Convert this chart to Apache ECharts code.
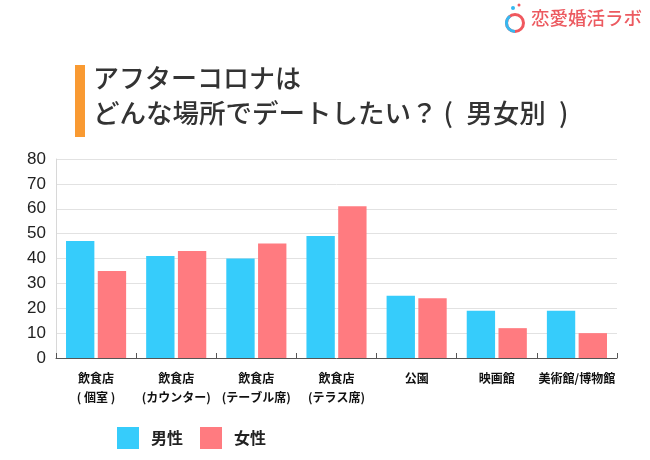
<!DOCTYPE html>
<html><head><meta charset="utf-8">
<script src="https://cdn.jsdelivr.net/npm/echarts@6/dist/echarts.min.js"></script>
<style>html,body{margin:0;padding:0;background:#fff}#c{width:650px;height:460px}</style>
</head><body><div id="c"></div>
<script>
const categories = ['飲食店\n( 個室 )', '飲食店\n(カウンター)', '飲食店\n(テーブル席)', '飲食店\n(テラス席)', '公園', '映画館', '美術館/博物館'];
const male = [47, 41, 40, 49, 25, 19, 19];
const female = [35, 43, 46, 61, 24, 12, 10];
const seriesNames = ['男性', '女性'];
const yTicks = { min: 0, max: 80, interval: 10 };

const chart = echarts.init(document.getElementById('c'), null, { renderer: 'canvas' });
const cjk = '"Noto Sans CJK JP", "Noto Sans", sans-serif';
chart.setOption({
  backgroundColor: '#fff',
  animation: false,
  grid: { left: 56, right: 33, top: 159, bottom: 102, containLabel: false },
  legend: {
    data: seriesNames,
    left: 117, top: 427, padding: 0,
    itemWidth: 22, itemHeight: 22, itemGap: 17,
    icon: 'rect',
    textStyle: { fontFamily: cjk, fontSize: 16, fontWeight: 'bold', color: '#222', padding: [0, 0, 0, 7] }
  },
  xAxis: {
    type: 'category', data: categories,
    axisLine: { lineStyle: { color: '#555', width: 1 } },
    axisTick: { show: true, inside: true, length: 5, lineStyle: { color: '#555' } },
    axisLabel: { fontFamily: cjk, fontSize: 12, fontWeight: 'bold', color: '#111', lineHeight: 19, margin: 11, interval: 0 }
  },
  yAxis: {
    type: 'value', min: yTicks.min, max: yTicks.max, interval: yTicks.interval,
    axisLine: { show: true, lineStyle: { color: '#d8d8d8' } },
    axisTick: { show: false },
    splitLine: { lineStyle: { color: '#e2e2e2', width: 1 } },
    axisLabel: { fontFamily: '"Liberation Sans", Arial, sans-serif', fontSize: 17, color: '#222', margin: 10 }
  },
  series: [
    { name: seriesNames[0], type: 'bar', data: male, barGap: '12%', barCategoryGap: '25%',
      itemStyle: { color: '#36CCFB' } },
    { name: seriesNames[1], type: 'bar', data: female,
      itemStyle: { color: '#FF7B80' } }
  ],
  graphic: [
    { type: 'rect', left: 75, top: 65, shape: { width: 10, height: 72 }, style: { fill: '#F99A32' } },
    { type: 'text', left: 93, top: 65, style: { text: 'アフターコロナは', font: '500 26px "Noto Sans CJK JP"', fill: '#333' } },
    { type: 'text', left: 93, top: 100, style: { text: 'どんな場所でデートしたい？ (\u2002男女別\u2002)', font: '500 26.5px "Noto Sans CJK JP"', fill: '#333' } },
    { type: 'circle', shape: { cx: 515, cy: 23, r: 8.5 }, style: { fill: 'none', stroke: '#F0585E', lineWidth: 3 } },
    { type: 'arc', shape: { cx: 515, cy: 23, r: 8.5, startAngle: Math.PI * 0.5, endAngle: Math.PI * 1.3 }, style: { fill: 'none', stroke: '#36B8F0', lineWidth: 3 } },
    { type: 'circle', shape: { cx: 513, cy: 8, r: 2 }, style: { fill: '#36B8F0' } },
    { type: 'circle', shape: { cx: 519, cy: 5, r: 1.5 }, style: { fill: '#F0585E' } },
    { type: 'text', left: 531, top: 9, style: { text: '恋愛婚活ラボ', font: '500 18.5px "Noto Sans CJK JP"', fill: '#EC5A60' } }
  ]
});
</script></body></html>
